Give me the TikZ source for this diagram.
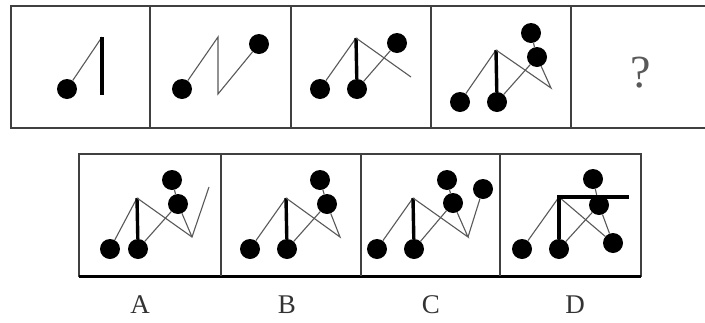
\documentclass[tikz,border=0pt]{standalone}
\usepackage{fontspec}
\setmainfont{Liberation Serif}
\begin{document}
\begin{tikzpicture}[x=1pt,y=-1pt,
  dot/.style={circle,fill=black,draw=none,minimum size=20pt,inner sep=0pt},
  pt/.style={coordinate},
  thin/.style={line width=1.1pt,draw=black!65},
  thick/.style={line width=3.4pt,draw=black},
  frame/.style={line width=1.6pt,draw=black!75},
  lab/.style={font=\fontsize{27}{27}\selectfont,text=black!80},
  qm/.style={font=\fontsize{46}{46}\selectfont,text=black!65}]
\useasboundingbox (0,0) rectangle (705,322);
\fill[white] (0,0) rectangle (705,322);
% top row frame
\draw[frame] (705,6) -- (11,6) -- (11,128) -- (705,128);
\foreach \x in {150,291,431,571} \draw[frame] (\x,6) -- (\x,128);
% bottom row frame
\draw[frame] (79,154) rectangle (641,276);
\draw[line width=3pt] (79,276) -- (641,276);
\foreach \x in {221,361,500} \draw[frame] (\x,154) -- (\x,276);
% panel 1
\node[dot] (d11) at (67,89) {};
\node[pt] (p1) at (102,37) {};
\node[pt] (b1) at (102,95) {};
\draw[thin] (d11) -- (p1);
\draw[thick] (p1) -- (b1);
% panel 2
\node[dot] (d21) at (182,89) {};
\node[pt] (p2) at (218,37) {};
\node[pt] (v2) at (218,94) {};
\node[dot] (d22) at (259,44) {};
\draw[thin] (d21) -- (p2) -- (v2) -- (d22);
% panel 3
\node[dot] (d31) at (320,89) {};
\node[pt] (p3) at (356,38) {};
\node[dot] (d32) at (357,89) {};
\node[dot] (d33) at (397,43) {};
\node[pt] (e3) at (411,77) {};
\draw[thin] (d31) -- (p3);
\draw[thick] (p3) -- (d32);
\draw[thin] (d32) -- (d33);
\draw[thin] (p3) -- (e3);
% panel 4
\node[dot] (d41) at (460,102) {};
\node[pt] (p4) at (496,50) {};
\node[dot] (d42) at (497,102) {};
\node[dot] (d43) at (537,57) {};
\node[dot] (d44) at (531,33) {};
\node[pt] (v4) at (551,88) {};
\draw[thin] (d41) -- (p4);
\draw[thick] (p4) -- (d42);
\draw[thin] (d42) -- (d43);
\draw[thin] (p4) -- (v4) -- (d43);
\draw[thin] (d44) -- (d43);
% question mark
\node[qm] (q) at (641,73) {?};
% option A
\node[dot] (dA1) at (110,249) {};
\node[pt] (pA) at (137,198) {};
\node[dot] (dA2) at (138,249) {};
\node[dot] (dA3) at (178,204) {};
\node[dot] (dA4) at (172,180) {};
\node[pt] (vA) at (192,237) {};
\node[pt] (eA) at (209,187) {};
\draw[thin] (dA1) -- (pA);
\draw[thick] (pA) -- (dA2);
\draw[thin] (dA2) -- (dA3);
\draw[thin] (pA) -- (vA) -- (eA);
\draw[thin] (dA3) -- (vA);
\draw[thin] (dA4) -- (dA3);
% option B
\node[dot] (dB1) at (250,249) {};
\node[pt] (pB) at (286,198) {};
\node[dot] (dB2) at (287,249) {};
\node[dot] (dB3) at (327,204) {};
\node[dot] (dB4) at (320,180) {};
\node[pt] (vB) at (340,237) {};
\draw[thin] (dB1) -- (pB);
\draw[thick] (pB) -- (dB2);
\draw[thin] (dB2) -- (dB3);
\draw[thin] (pB) -- (vB) -- (dB3);
\draw[thin] (dB4) -- (dB3);
% option C
\node[dot] (dC1) at (377,249) {};
\node[pt] (pC) at (413,198) {};
\node[dot] (dC2) at (414,249) {};
\node[dot] (dC3) at (453,203) {};
\node[dot] (dC4) at (447,180) {};
\node[pt] (vC) at (468,237) {};
\node[dot] (dC5) at (483,189) {};
\draw[thin] (dC1) -- (pC);
\draw[thick] (pC) -- (dC2);
\draw[thin] (dC2) -- (dC3);
\draw[thin] (pC) -- (vC) -- (dC3);
\draw[thin] (vC) -- (dC5);
\draw[thin] (dC4) -- (dC3);
% option D
\node[dot] (dD1) at (522,249) {};
\node[pt] (pD) at (559,197) {};
\node[dot] (dD2) at (559,249) {};
\node[pt] (hD) at (629,197) {};
\node[dot] (dD3) at (599,205) {};
\node[dot] (dD4) at (593,179) {};
\node[dot] (dD5) at (613,243) {};
\draw[thin] (dD1) -- (pD);
\draw[thin] (pD) -- (dD5);
\draw[thin] (dD2) -- (dD3);
\draw[thin] (dD3) -- (dD5);
\draw[thin] (dD4) -- (dD3);
\draw[thick] (dD2) -- (pD.center) -- (hD);
% labels
\node[lab] (la) at (140,305) {A};
\node[lab] (lb) at (287,305) {B};
\node[lab] (lc) at (431,305) {C};
\node[lab] (ld) at (575,305) {D};
\end{tikzpicture}
\end{document}
